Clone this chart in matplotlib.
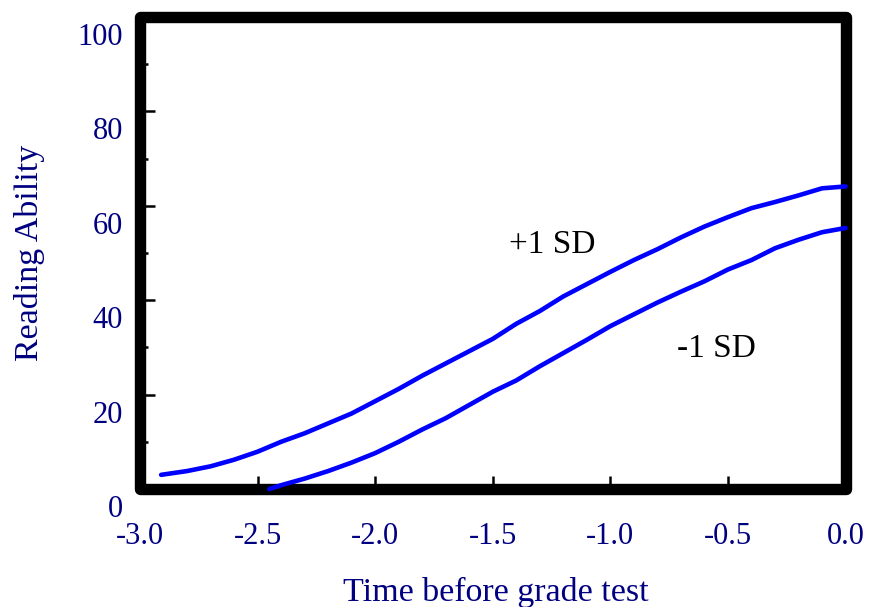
import matplotlib
matplotlib.use("Agg")
import matplotlib.pyplot as plt
import matplotlib.transforms as mtransforms
from matplotlib.patches import Rectangle

# ---- data ----
upper_x = [-2.91, -2.80, -2.70, -2.60, -2.50, -2.40, -2.30, -2.20, -2.10, -2.00,
           -1.90, -1.80, -1.70, -1.60, -1.50, -1.40, -1.30, -1.20, -1.10, -1.00,
           -0.90, -0.80, -0.70, -0.60, -0.50, -0.40, -0.30, -0.20, -0.10, 0.00]
upper_y = [3.0, 3.8, 4.8, 6.2, 7.9, 10.0, 11.8, 13.9, 16.0, 18.6,
           21.2, 24.0, 26.6, 29.2, 31.8, 35.0, 37.7, 40.8, 43.4, 46.0,
           48.5, 50.8, 53.3, 55.6, 57.6, 59.5, 60.8, 62.2, 63.7, 64.1]

lower_x = [-2.45, -2.40, -2.30, -2.20, -2.10, -2.00, -1.90, -1.80, -1.70, -1.60,
           -1.50, -1.40, -1.30, -1.20, -1.10, -1.00, -0.90, -0.80, -0.70, -0.60,
           -0.50, -0.40, -0.30, -0.20, -0.10, 0.00]
lower_y = [0.0, 0.8, 2.2, 3.8, 5.6, 7.6, 10.0, 12.6, 15.0, 17.8,
           20.6, 23.0, 26.0, 28.8, 31.6, 34.5, 37.0, 39.5, 41.8, 44.0,
           46.5, 48.5, 51.0, 52.8, 54.4, 55.3]

x_ticks = [-3.0, -2.5, -2.0, -1.5, -1.0, -0.5, 0.0]
x_ticklabels = ["-3.0", "-2.5", "-2.0", "-1.5", "-1.0", "-0.5", "0.0"]
y_ticks = [0, 20, 40, 60, 80, 100]
y_ticklabels = ["0", "20", "40", "60", "80", "100"]
y_minor = [10, 30, 50, 70, 90]

x_label = "Time before grade test"
y_label = "Reading Ability"
label_upper = "+1 SD"
label_lower = "-1 SD"

navy = "#000080"
plt.rcParams['font.family'] = ['Liberation Serif', 'DejaVu Serif']

fig = plt.figure(figsize=(8.77, 6.07), dpi=100)
ax = fig.add_axes([0.1596, 0.1944, 0.8045, 0.7776])

ax.plot(upper_x, upper_y, color="#0000FF", lw=3.3, solid_capstyle='round',
        solid_joinstyle='round', zorder=4, clip_on=False)
ax.plot(lower_x, lower_y, color="#0000FF", lw=3.3, solid_capstyle='round',
        solid_joinstyle='round', zorder=4, clip_on=False)

ax.set_xlim(-3.0, 0.0)
ax.set_ylim(0, 100)

for s in ax.spines.values():
    s.set_visible(False)
frame = Rectangle((0, 0), 1, 1, transform=ax.transAxes, fill=False, lw=8.2,
                  edgecolor='black', joinstyle='round', clip_on=False, zorder=3)
ax.add_patch(frame)

ax.set_xticks(x_ticks)
ax.set_xticklabels(x_ticklabels)
ax.set_yticks(y_ticks)
ax.set_yticklabels(y_ticklabels)
ax.set_yticks(y_minor, minor=True)

ax.tick_params(axis='x', which='major', direction='in', length=9.5, width=1.8,
               pad=23.5, labelsize=22, labelcolor=navy, color='black')
ax.tick_params(axis='y', which='major', direction='in', length=10.8, width=1.8,
               pad=12.2, labelsize=22, labelcolor=navy, color='black')
ax.tick_params(axis='y', which='minor', direction='in', length=5.8, width=1.8, color='black')

off = mtransforms.ScaledTranslation(0, -17 / 100, fig.dpi_scale_trans)
for t in ax.yaxis.get_major_ticks():
    t.label1.set_transform(t.label1.get_transform() + off)

ax.set_xlabel(x_label, fontsize=24.5, color=navy)
ax.xaxis.label.set_va('baseline')
ax.xaxis.set_label_coords(0.505, -0.2373)
ax.set_ylabel(y_label, fontsize=24.5, color=navy)
ax.yaxis.label.set_va('center')
ax.yaxis.set_label_coords(-0.157, 0.5)

ax.text(-1.248, 50.0, label_upper, fontsize=24, color='black', ha='center', va='baseline')
ax.text(-0.547, 28.0, label_lower, fontsize=24, color='black', ha='center', va='baseline')

fig.savefig("out.png", dpi=100)
